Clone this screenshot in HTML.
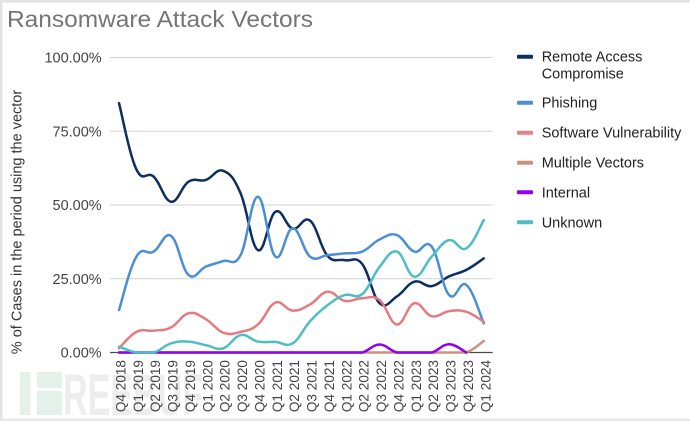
<!DOCTYPE html>
<html><head><meta charset="utf-8"><style>
html,body{margin:0;padding:0;background:#fff;}
svg{display:block;}
text{font-family:"Liberation Sans",Arial,sans-serif;}
</style></head><body>
<svg id="c" width="690" height="421" viewBox="0 0 690 421" xmlns="http://www.w3.org/2000/svg">
<rect x="0" y="0" width="690" height="421" fill="#fff"/>
<!-- border -->
<rect x="0" y="0" width="690" height="2.5" fill="#e2e2e2"/>
<rect x="0" y="0" width="2.5" height="421" fill="#e2e2e2"/>
<rect x="0" y="418.5" width="690" height="2.5" fill="#e6e6e6"/>
<!-- watermark -->
<rect x="20" y="372" width="10.5" height="43" fill="#e4f1eb"/>
<rect x="37" y="372" width="25" height="16" fill="#e4f1eb"/>
<rect x="37" y="391" width="25" height="24" fill="#e4f1eb"/>
<text x="63" y="415" font-size="58" font-weight="bold" fill="#ededed" textLength="140" lengthAdjust="spacingAndGlyphs">REEBUF</text>
<!-- title -->
<text x="7" y="27" font-size="23.5" fill="#757575" textLength="306" lengthAdjust="spacingAndGlyphs">Ransomware Attack Vectors</text>
<!-- gridlines -->
<g stroke="#d3d3d3" stroke-width="1">
<line x1="110" y1="57.5" x2="492.7" y2="57.5"/>
<line x1="110" y1="131.2" x2="492.7" y2="131.2"/>
<line x1="110" y1="205" x2="492.7" y2="205"/>
<line x1="110" y1="278.7" x2="492.7" y2="278.7"/>
</g>
<line x1="110" y1="352.5" x2="492.7" y2="352.5" stroke="#4a4a4a" stroke-width="1.3"/>
<!-- y labels -->
<g font-size="14.5" fill="#444" text-anchor="end">
<text x="101.7" y="62.5">100.00%</text>
<text x="101.7" y="136.3">75.00%</text>
<text x="101.7" y="210">50.00%</text>
<text x="101.7" y="283.8">25.00%</text>
<text x="101.7" y="357.5">0.00%</text>
</g>
<text transform="translate(21.5,222) rotate(-90)" font-size="14.5" fill="#333" text-anchor="middle">% of Cases in the period using the vector</text>
<g id="xl" font-size="13.6" fill="#444" text-anchor="end"></g>
<g id="series" fill="none" stroke-width="2.5" stroke-linejoin="round" stroke-linecap="round"></g>
<!-- legend -->
<g>
<rect x="517" y="54.7" width="16" height="4" rx="1" fill="#0c2f60"/>
<rect x="517" y="100.7" width="16" height="4" rx="1" fill="#4a8fd6"/>
<rect x="517" y="130.7" width="16" height="4" rx="1" fill="#e77f86"/>
<rect x="517" y="160.7" width="16" height="4" rx="1" fill="#c8927e"/>
<rect x="517" y="190.3" width="16" height="4" rx="1" fill="#9100f0"/>
<rect x="517" y="220.3" width="16" height="4" rx="1" fill="#4dbec4"/>
</g>
<g font-size="14.5" fill="#222">
<text x="541.7" y="61.7">Remote Access</text>
<text x="541.7" y="78.3">Compromise</text>
<text x="541.7" y="107.7">Phishing</text>
<text x="541.7" y="137.7">Software Vulnerability</text>
<text x="541.7" y="167.7">Multiple Vectors</text>
<text x="541.7" y="197.3">Internal</text>
<text x="541.7" y="227.3">Unknown</text>
</g>
</svg>
<script>
(function(){
var NS="http://www.w3.org/2000/svg";
var X0=119, DX=17.37, Y0=352.5, SY=2.95, K=5;
var labels=["Q4 2018","Q1 2019","Q2 2019","Q3 2019","Q4 2019","Q1 2020","Q2 2020","Q3 2020","Q4 2020","Q1 2021","Q2 2021","Q3 2021","Q4 2021","Q1 2022","Q2 2022","Q3 2022","Q4 2022","Q1 2023","Q2 2023","Q3 2023","Q4 2023","Q1 2024"];
var xl=document.getElementById("xl");
labels.forEach(function(l,i){
  var t=document.createElementNS(NS,"text");
  var x=X0+DX*i+6.5;
  t.setAttribute("transform","translate("+x.toFixed(1)+",360) rotate(-90)");
  t.textContent=l; xl.appendChild(t);
});
var series=[
 {c:"#0c2f60",d:[84.5,62.1,59.6,51.1,57.9,58.5,61.6,54,34.7,47.7,42,44.7,32.8,31.3,30,16.7,19,24,22.5,25.8,28,31.9]},
 {c:"#4a8fd6",d:[14.4,32.5,34.2,39.5,26.3,29.1,31,33,52.8,32.5,42.1,32.5,33,33.6,34.2,38.3,39.8,34.2,35.9,19.5,22.9,9.9]},
 {c:"#e57a80",d:[1.4,7,7.4,8.5,13.3,11.3,6.7,7,9.5,16.9,14.2,16.3,20.6,17.5,18.4,17.8,9.5,16.7,12.3,14,13.8,10.4]},
 {c:"#c8927e",d:[0,0,0,0,0,0,0,0,0,0,0,0,0,0,0,0,0,0,0,0,0,3.9]},
 {c:"#9100f0",d:[0,0,0,0,0,0,0,0,0,0,0,0,0,0,0,2.7,0,0,0,2.8,0]},
 {c:"#4dbec4",d:[2,0,0,3.1,3.7,2.5,1.4,5.9,3.7,3.6,3.1,10.6,16,19.5,19.8,29,34.2,25.7,32.5,38.1,35.3,44.9]}
];
var g=document.getElementById("series");
series.forEach(function(s){
  var p=s.d.map(function(v,i){return [X0+DX*i, Y0-SY*v];});
  var d="M"+p[0][0].toFixed(2)+","+p[0][1].toFixed(2);
  for(var i=0;i<p.length-1;i++){
    var p0=p[i-1]||p[i], p1=p[i], p2=p[i+1], p3=p[i+2]||p[i+1];
    var c1x=p1[0]+(p2[0]-p0[0])/K, c1y=p1[1]+(p2[1]-p0[1])/K;
    var c2x=p2[0]-(p3[0]-p1[0])/K, c2y=p2[1]-(p3[1]-p1[1])/K;
    c1y=Math.min(c1y,Y0); c2y=Math.min(c2y,Y0);
    d+=" C"+c1x.toFixed(2)+","+c1y.toFixed(2)+" "+c2x.toFixed(2)+","+c2y.toFixed(2)+" "+p2[0].toFixed(2)+","+p2[1].toFixed(2);
  }
  var path=document.createElementNS(NS,"path");
  path.setAttribute("d",d); path.setAttribute("stroke",s.c);
  g.appendChild(path);
});
})();
</script>
</body></html>
